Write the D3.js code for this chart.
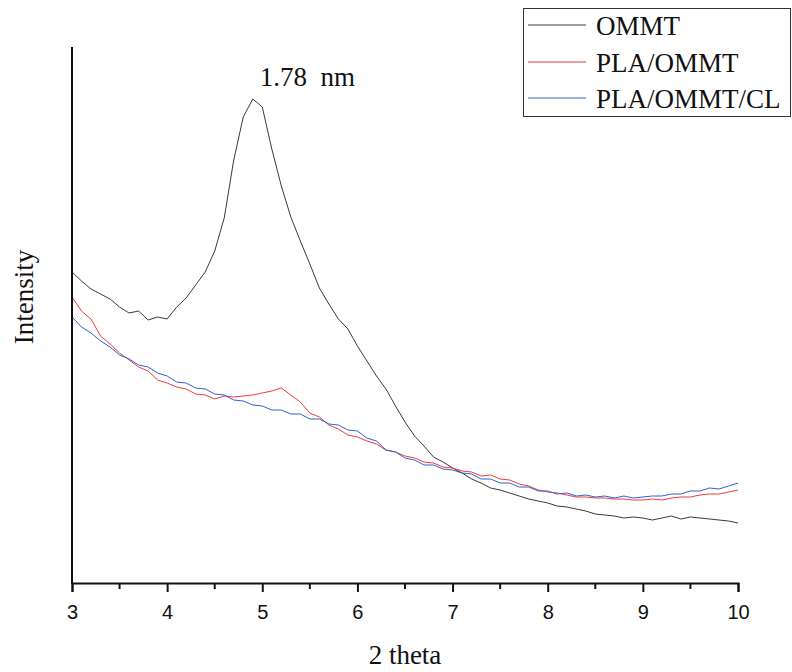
<!DOCTYPE html>
<html>
<head>
<meta charset="utf-8">
<script src="https://cdn.jsdelivr.net/npm/d3@7"></script>
<style>
  html, body { margin: 0; padding: 0; background: #fff; }
  svg { display: block; }
</style>
</head>
<body>
<div id="chart"></div>
<script>
// ======================================================
//   XRD pattern — OMMT vs PLA/OMMT vs PLA/OMMT/CL
// ======================================================

// ----- DATA (step 0.1 in 2 theta) -----
const theta = [
  3.0, 3.1, 3.2, 3.3, 3.4, 3.5, 3.6, 3.7, 3.8, 3.9,
  4.0, 4.1, 4.2, 4.3, 4.4, 4.5, 4.6, 4.7, 4.8, 4.9,
  5.0, 5.1, 5.2, 5.3, 5.4, 5.5, 5.6, 5.7, 5.8, 5.9,
  6.0, 6.1, 6.2, 6.3, 6.4, 6.5, 6.6, 6.7, 6.8, 6.9,
  7.0, 7.1, 7.2, 7.3, 7.4, 7.5, 7.6, 7.7, 7.8, 7.9,
  8.0, 8.1, 8.2, 8.3, 8.4, 8.5, 8.6, 8.7, 8.8, 8.9,
  9.0, 9.1, 9.2, 9.3, 9.4, 9.5, 9.6, 9.7, 9.8, 9.9,
  10.0
];

// intensity, arbitrary units
const ommt = [
  311, 302, 294, 289, 284, 276, 270, 272, 263, 266,
  264, 276, 285, 298, 311, 332, 365, 423, 466, 484,
  476, 434, 397, 366, 342, 319, 295, 279, 264, 254,
  237, 222, 207, 194, 177, 161, 147, 137, 126, 121,
  115, 110, 104, 100, 95, 93, 90, 87, 84, 82,
  80, 77, 76, 74, 72, 69, 68, 67, 65, 66,
  65, 63, 65, 67, 64, 66, 65, 64, 63, 62,
  60
];

const plaOmmt = [
  286, 272, 264, 247, 239, 230, 223, 216, 212, 203,
  200, 196, 194, 189, 188, 184, 187, 186, 187, 188,
  190, 192, 195, 188, 181, 170, 166, 158, 154, 148,
  146, 142, 139, 133, 131, 127, 125, 121, 120, 116,
  115, 112, 111, 107, 108, 104, 103, 99, 97, 93,
  91, 90, 88, 86, 86, 85, 85, 84, 84, 83,
  83, 84, 83, 85, 86, 86, 88, 89, 89, 91,
  93
];

const plaOmmtCl = [
  266, 256, 250, 242, 236, 228, 224, 218, 216, 210,
  207, 201, 200, 195, 194, 189, 188, 183, 182, 178,
  177, 173, 173, 169, 169, 164, 164, 159, 158, 153,
  152, 145, 142, 133, 131, 125, 123, 118, 118, 114,
  113, 110, 109, 104, 104, 100, 100, 96, 96, 92,
  92, 89, 90, 87, 88, 86, 87, 85, 87, 85,
  86, 87, 87, 89, 89, 92, 92, 95, 94, 97,
  100
];

const seriesNames = ["OMMT", "PLA/OMMT", "PLA/OMMT/CL"];
const seriesValues = [ommt, plaOmmt, plaOmmtCl];
const seriesColors = ["#3a3a3a", "#ee3b3b", "#2f62d0"];

const xTicks = [3, 4, 5, 6, 7, 8, 9, 10];
const xMinorTicks = [3.5, 4.5, 5.5, 6.5, 7.5, 8.5, 9.5];
const peakLabel = { x: 4.89, y: 484, text: "1.78  nm" };

// ----- LAYOUT -----
const width = 792, height = 672;
const margin = { left: 72, right: 54, top: 47, bottom: 89 };

const svg = d3.select("#chart").append("svg")
  .attr("width", width)
  .attr("height", height);

const x = d3.scaleLinear()
  .domain([3, 10])
  .range([margin.left, width - margin.right]);

const y = d3.scaleLinear()
  .domain([0, 536])
  .range([height - margin.bottom, margin.top]);

// ----- CURVES -----
const line = d3.line()
  .x((d) => x(d[0]))
  .y((d) => y(d[1]));

seriesValues.forEach((vals, i) => {
  svg.append("path")
    .datum(theta.map((t, j) => [t, vals[j]]))
    .attr("fill", "none")
    .attr("stroke", seriesColors[i])
    .attr("stroke-width", 1)
    .attr("stroke-linejoin", "round")
    .attr("d", line);
});

// ----- AXES -----
const xAxis = svg.append("g")
  .attr("transform", `translate(0,${y(0)})`)
  .call(d3.axisBottom(x).tickValues(xTicks).tickSize(9).tickPadding(13).tickFormat(d3.format("d")));

xAxis.select(".domain").attr("stroke", "#111").attr("stroke-width", 2);
xAxis.selectAll(".tick line").attr("stroke", "#111").attr("stroke-width", 2);
xAxis.selectAll(".tick text")
  .attr("fill", "#111")
  .style("font-family", "'Liberation Sans', Arial, sans-serif")
  .style("font-size", "20px");

svg.append("g")
  .attr("transform", `translate(0,${y(0)})`)
  .selectAll("line")
  .data(xMinorTicks)
  .join("line")
  .attr("x1", (d) => x(d))
  .attr("x2", (d) => x(d))
  .attr("y1", 0)
  .attr("y2", 6)
  .attr("stroke", "#111")
  .attr("stroke-width", 2);

// left axis, no ticks
svg.append("line")
  .attr("x1", x(3))
  .attr("x2", x(3))
  .attr("y1", y(0) + 1)
  .attr("y2", margin.top)
  .attr("stroke", "#111")
  .attr("stroke-width", 2);

// ----- AXIS TITLES -----
const serif = "'Liberation Serif', 'Times New Roman', serif";

svg.append("text")
  .attr("x", 405)
  .attr("y", 664)
  .attr("text-anchor", "middle")
  .attr("fill", "#111")
  .style("font-family", serif)
  .style("font-size", "27px")
  .text("2 theta");

svg.append("text")
  .attr("transform", "translate(33,297) rotate(-90)")
  .attr("text-anchor", "middle")
  .attr("fill", "#111")
  .style("font-family", serif)
  .style("font-size", "27px")
  .text("Intensity");

// ----- PEAK ANNOTATION -----
svg.append("text")
  .attr("x", x(peakLabel.x) + 8)
  .attr("y", y(peakLabel.y) - 13)
  .attr("xml:space", "preserve")
  .style("white-space", "pre")
  .attr("fill", "#111")
  .style("font-family", serif)
  .style("font-size", "27px")
  .text(peakLabel.text);

// ----- LEGEND -----
const legend = svg.append("g");

legend.append("rect")
  .attr("x", 523.5)
  .attr("y", 8.5)
  .attr("width", 267)
  .attr("height", 108)
  .attr("fill", "#fff")
  .attr("stroke", "#333")
  .attr("stroke-width", 1);

const rowY = [25, 62, 98];

seriesNames.forEach((name, i) => {
  legend.append("line")
    .attr("x1", 528)
    .attr("x2", 586)
    .attr("y1", rowY[i])
    .attr("y2", rowY[i])
    .attr("stroke", seriesColors[i])
    .attr("stroke-width", 1);

  legend.append("text")
    .attr("x", 596)
    .attr("y", rowY[i] + 10)
    .attr("fill", "#111")
    .style("font-family", serif)
    .style("font-size", "27px")
    .text(name);
});
</script>
</body>
</html>
